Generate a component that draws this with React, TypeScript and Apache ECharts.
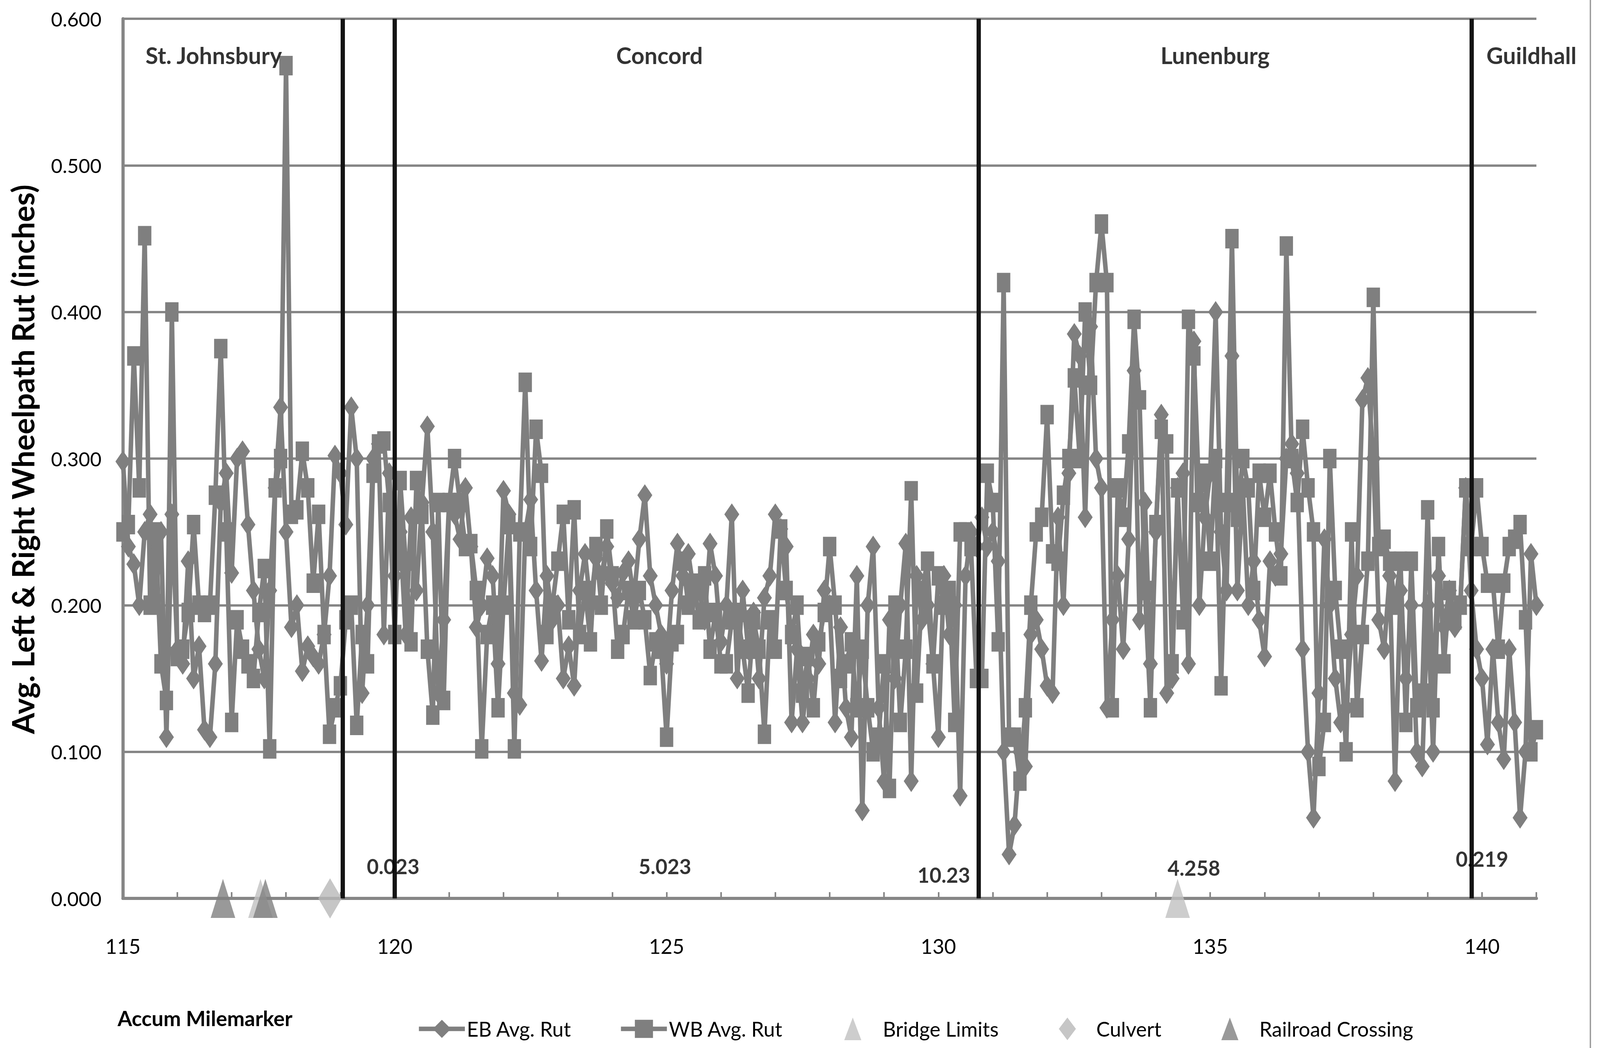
import React, { useEffect, useRef } from "react";
import * as echarts from "echarts";

const START_MILE = 115;
const STEP_MILE = 0.1;

// EB Avg. Rut, one value every 0.1 mile from 115.0 to 141.0
const ebRut = [
  0.298, 0.240, 0.228, 0.200, 0.250, 0.262, 0.205, 0.250, 0.110, 0.262,
  0.170, 0.160, 0.230, 0.150, 0.172, 0.115, 0.110, 0.160, 0.270, 0.290,
  0.222, 0.300, 0.305, 0.255, 0.210, 0.170, 0.150, 0.210, 0.280, 0.335,
  0.250, 0.185, 0.200, 0.155, 0.172, 0.165, 0.160, 0.180, 0.220, 0.302,
  0.290, 0.255, 0.335, 0.300, 0.140, 0.200, 0.300, 0.310, 0.180, 0.290,
  0.220, 0.250, 0.180, 0.260, 0.210, 0.270, 0.322, 0.250, 0.140, 0.190,
  0.270, 0.262, 0.245, 0.280, 0.240, 0.185, 0.200, 0.232, 0.220, 0.160,
  0.278, 0.262, 0.140, 0.132, 0.250, 0.272, 0.210, 0.162, 0.220, 0.190,
  0.200, 0.150, 0.172, 0.145, 0.210, 0.235, 0.200, 0.232, 0.220, 0.240,
  0.215, 0.205, 0.222, 0.230, 0.205, 0.245, 0.275, 0.220, 0.200, 0.180,
  0.160, 0.210, 0.242, 0.220, 0.235, 0.210, 0.210, 0.190, 0.242, 0.220,
  0.175, 0.200, 0.262, 0.150, 0.210, 0.170, 0.195, 0.150, 0.205, 0.220,
  0.262, 0.252, 0.240, 0.120, 0.170, 0.120, 0.150, 0.180, 0.160, 0.210,
  0.200, 0.120, 0.185, 0.130, 0.110, 0.220, 0.060, 0.200, 0.240, 0.130,
  0.080, 0.190, 0.150, 0.200, 0.242, 0.080, 0.220, 0.190, 0.200, 0.160,
  0.110, 0.220, 0.180, 0.200, 0.070, 0.220, 0.250, 0.240, 0.260, 0.240,
  0.250, 0.230, 0.100, 0.030, 0.050, 0.100, 0.090, 0.180, 0.190, 0.170,
  0.145, 0.140, 0.260, 0.200, 0.290, 0.385, 0.370, 0.260, 0.390, 0.300,
  0.280, 0.130, 0.190, 0.220, 0.170, 0.245, 0.360, 0.190, 0.270, 0.160,
  0.250, 0.330, 0.140, 0.150, 0.280, 0.290, 0.160, 0.380, 0.200, 0.260,
  0.290, 0.400, 0.250, 0.210, 0.370, 0.210, 0.280, 0.200, 0.230, 0.190,
  0.165, 0.230, 0.220, 0.235, 0.300, 0.310, 0.290, 0.170, 0.100, 0.055,
  0.140, 0.245, 0.200, 0.150, 0.120, 0.130, 0.180, 0.220, 0.340, 0.355,
  0.300, 0.190, 0.170, 0.220, 0.080, 0.210, 0.150, 0.200, 0.100, 0.090,
  0.200, 0.100, 0.220, 0.185, 0.210, 0.185, 0.200, 0.280, 0.210, 0.170,
  0.150, 0.105, 0.170, 0.120, 0.095, 0.170, 0.120, 0.055, 0.100, 0.235,
  0.200,
];

// WB Avg. Rut, one value every 0.1 mile from 115.0 to 141.0
const wbRut = [
  0.250, 0.255, 0.370, 0.280, 0.452, 0.200, 0.250, 0.160, 0.135, 0.400,
  0.165, 0.170, 0.195, 0.255, 0.200, 0.195, 0.200, 0.275, 0.375, 0.250,
  0.120, 0.190, 0.170, 0.160, 0.150, 0.195, 0.225, 0.102, 0.280, 0.300,
  0.568, 0.262, 0.265, 0.305, 0.280, 0.215, 0.262, 0.180, 0.112, 0.130,
  0.145, 0.190, 0.200, 0.118, 0.180, 0.160, 0.290, 0.310, 0.312, 0.270,
  0.180, 0.285, 0.230, 0.175, 0.285, 0.262, 0.170, 0.125, 0.270, 0.135,
  0.270, 0.300, 0.270, 0.240, 0.242, 0.210, 0.102, 0.180, 0.200, 0.130,
  0.200, 0.255, 0.102, 0.250, 0.352, 0.240, 0.320, 0.290, 0.180, 0.200,
  0.230, 0.262, 0.190, 0.265, 0.180, 0.210, 0.175, 0.240, 0.200, 0.252,
  0.220, 0.170, 0.180, 0.210, 0.190, 0.210, 0.190, 0.152, 0.175, 0.170,
  0.110, 0.175, 0.180, 0.230, 0.200, 0.215, 0.190, 0.220, 0.170, 0.195,
  0.160, 0.160, 0.190, 0.195, 0.170, 0.140, 0.190, 0.170, 0.112, 0.190,
  0.170, 0.252, 0.210, 0.180, 0.200, 0.140, 0.165, 0.130, 0.175, 0.195,
  0.240, 0.200, 0.150, 0.160, 0.175, 0.130, 0.170, 0.130, 0.100, 0.110,
  0.160, 0.075, 0.200, 0.120, 0.170, 0.278, 0.140, 0.210, 0.230, 0.160,
  0.220, 0.200, 0.210, 0.120, 0.250, 0.250, 0.240, 0.150, 0.150, 0.290,
  0.270, 0.175, 0.420, 0.110, 0.110, 0.080, 0.130, 0.200, 0.250, 0.260,
  0.330, 0.235, 0.230, 0.275, 0.300, 0.355, 0.300, 0.400, 0.350, 0.420,
  0.460, 0.420, 0.130, 0.280, 0.260, 0.310, 0.395, 0.340, 0.210, 0.130,
  0.255, 0.320, 0.310, 0.160, 0.280, 0.190, 0.395, 0.370, 0.270, 0.290,
  0.230, 0.300, 0.145, 0.270, 0.450, 0.260, 0.300, 0.280, 0.210, 0.290,
  0.260, 0.290, 0.250, 0.220, 0.445, 0.300, 0.270, 0.320, 0.280, 0.250,
  0.090, 0.120, 0.300, 0.210, 0.170, 0.100, 0.250, 0.130, 0.180, 0.230,
  0.410, 0.240, 0.245, 0.230, 0.200, 0.230, 0.120, 0.230, 0.130, 0.140,
  0.265, 0.130, 0.240, 0.160, 0.210, 0.190, 0.200, 0.280, 0.240, 0.280,
  0.240, 0.215, 0.215, 0.170, 0.215, 0.240, 0.245, 0.255, 0.190, 0.100,
  0.115,
];

// Feature locations (accumulated milemarker)
const bridgeLimits = [117.53, 134.4];
const culverts = [118.81];
const railroadCrossings = [116.84, 117.62];

// Town boundaries
const townBoundaries = [119.04, 120.0, 130.74, 139.81];
const townNames = ["St. Johnsbury", "Concord", "Lunenburg", "Guildhall"];
const townLabelMiles = [116.67, 124.87, 135.09, 140.91];
const townLabelLevel = 0.575;

// Town milemarker labels
const townMileLabels = ["0.023", "5.023", "10.23", "4.258", "0.219"];
const townMileLabelMiles = [119.97, 124.97, 130.1, 134.7, 140.0];
const townMileLabelLevels = [0.022, 0.022, 0.016, 0.021, 0.027];

const LINE_GREY = "#7f7f7f";
const FONT = "Lato, 'Open Sans', sans-serif";
const REF_W = 5987;
const REF_H = 2683;

export default function App() {
  const ref = useRef<HTMLDivElement>(null);

  useEffect(() => {
    const el = ref.current;
    if (!el) return;
    const W = el.clientWidth || REF_W;
    const H = el.clientHeight || REF_H;
    const sx = W / REF_W;
    const sy = H / REF_H;
    const sf = Math.min(sx, sy);
    const X = (v: number) => v * sx;
    const Y = (v: number) => v * sy;
    const F = (v: number) => v * sf;

    const chart = echarts.init(el, null, { renderer: "svg", width: W, height: H });

    const ebData = ebRut.map((v, i) => [START_MILE + i * STEP_MILE, v]);
    const wbData = wbRut.map((v, i) => [START_MILE + i * STEP_MILE, v]);

    // line items: left edge of icon; marker items: centre of icon minus half width
    const legendItems = [
      { name: "EB Avg. Rut", at: 1559, width: 172, textGap: 0, line: true },
      { name: "WB Avg. Rut", at: 2315, width: 172, textGap: 0, line: true },
      { name: "Bridge Limits", at: 3191 - 32, width: 64, textGap: 73, line: false },
      { name: "Culvert", at: 3994 - 32, width: 64, textGap: 69, line: false },
      { name: "Railroad Crossing", at: 4602 - 32, width: 64, textGap: 71, line: false },
    ];
    const legendLineH = F(92);

    const option: any = {
      animation: false,
      backgroundColor: "#ffffff",
      textStyle: { fontFamily: FONT },
      grid: { left: X(460), right: X(238), top: Y(48), bottom: Y(383), containLabel: false },
      xAxis: {
        type: "value",
        min: 115,
        max: 141,
        interval: 1,
        axisLine: { show: true, lineStyle: { color: "#868686", width: F(12) } },
        axisTick: { show: true, inside: true, length: Y(16), lineStyle: { color: "#868686", width: F(6) } },
        splitLine: { show: false },
        axisLabel: {
          fontSize: F(76),
          color: "#000",
          fontFamily: FONT,
          margin: Y(96),
          formatter: (v: number) => (Math.round(v) % 5 === 0 ? String(Math.round(v)) : ""),
        },
      },
      yAxis: {
        type: "value",
        min: 0,
        max: 0.6,
        interval: 0.1,
        axisLine: { show: true, lineStyle: { color: "#868686", width: F(12) } },
        axisTick: { show: false },
        splitLine: { show: true, lineStyle: { color: "#868686", width: F(9) } },
        axisLabel: {
          fontSize: F(74),
          color: "#000",
          fontFamily: FONT,
          margin: X(80),
          formatter: (v: number) => v.toFixed(3),
        },
      },
      legend: legendItems.map((l) => ({
        data: [l.name],
        left: X(l.at),
        top: Y(2634) - legendLineH / 2,
        itemWidth: X(l.width),
        itemHeight: Y(58),
        itemGap: 0,
        padding: 0,
        symbolKeepAspect: true,
        selectedMode: false,
        lineStyle: l.line ? { width: F(17) } : undefined,
        textStyle: {
          fontSize: F(76),
          color: "#000",
          fontFamily: FONT,
          lineHeight: legendLineH,
          padding: [0, 0, 0, X(l.textGap)],
        },
      })),
      graphic: [
        {
          type: "text",
          x: X(85),
          y: Y(1176),
          rotation: Math.PI / 2,
          style: {
            text: "Avg. Left & Right Wheelpath Rut (inches)",
            fontSize: 78 * sy,
            fontWeight: "bold",
            fontFamily: FONT,
            fill: "#000",
            align: "center",
            verticalAlign: "middle",
          },
        },
        {
          type: "text",
          x: X(440),
          y: Y(2606),
          style: {
            text: "Accum Milemarker",
            fontSize: F(78),
            fontWeight: "bold",
            fontFamily: FONT,
            fill: "#000",
            align: "left",
            verticalAlign: "middle",
          },
        },
        {
          type: "line",
          shape: { x1: X(5951), y1: 0, x2: X(5951), y2: H },
          style: { stroke: "#9a9a9a", lineWidth: Math.max(1.5, F(5)) },
        },
      ],
      series: [
        {
          name: "EB Avg. Rut",
          type: "line",
          data: ebData,
          symbol: "diamond",
          symbolSize: [X(56), Y(56)],
          showAllSymbol: true,
          lineStyle: { color: LINE_GREY, width: F(17) },
          itemStyle: { color: LINE_GREY },
          z: 3,
          markLine: {
            silent: true,
            symbol: "none",
            label: { show: false },
            lineStyle: { color: "#141414", width: F(16), type: "solid" },
            data: townBoundaries.map((m) => ({ xAxis: m })),
            z: 10,
          },
        },
        {
          name: "WB Avg. Rut",
          type: "line",
          data: wbData,
          symbol: "rect",
          symbolSize: [X(50), Y(50)],
          showAllSymbol: true,
          lineStyle: { color: LINE_GREY, width: F(17) },
          itemStyle: { color: LINE_GREY },
          z: 4,
        },
        {
          name: "Bridge Limits",
          type: "scatter",
          data: bridgeLimits.map((m) => [m, 0]),
          symbol: "triangle",
          symbolSize: [X(92), Y(100)],
          itemStyle: { color: "#c0c0c0" },
          clip: false,
          z: 6,
        },
        {
          name: "Culvert",
          type: "scatter",
          data: culverts.map((m) => [m, 0]),
          symbol: "diamond",
          symbolSize: [X(88), Y(103)],
          itemStyle: { color: "#b8b8b8" },
          clip: false,
          z: 6,
        },
        {
          name: "Railroad Crossing",
          type: "scatter",
          data: railroadCrossings.map((m) => [m, 0]),
          symbol: "triangle",
          symbolSize: [X(92), Y(100)],
          itemStyle: { color: LINE_GREY },
          clip: false,
          z: 7,
        },
        {
          name: "town-names",
          type: "scatter",
          data: townNames.map((n, i) => [townLabelMiles[i], townLabelLevel, n]),
          symbolSize: 0,
          silent: true,
          clip: false,
          z: 20,
          label: {
            show: true,
            position: "inside",
            formatter: (p: any) => p.value[2],
            fontSize: F(86),
            fontWeight: "bold",
            fontFamily: FONT,
            color: "#000",
          },
        },
        {
          name: "town-miles",
          type: "scatter",
          data: townMileLabels.map((n, i) => [townMileLabelMiles[i], townMileLabelLevels[i], n]),
          symbolSize: 0,
          silent: true,
          clip: false,
          z: 20,
          label: {
            show: true,
            position: "inside",
            formatter: (p: any) => p.value[2],
            fontSize: F(77),
            fontWeight: "bold",
            fontFamily: FONT,
            color: "#000",
          },
        },
      ],
    };

    chart.setOption(option);
    return () => chart.dispose();
  }, []);

  return (
    <div
      ref={ref}
      style={{ position: "fixed", left: 0, top: 0, width: "100vw", height: "100vh", background: "#fff" }}
    />
  );
}
